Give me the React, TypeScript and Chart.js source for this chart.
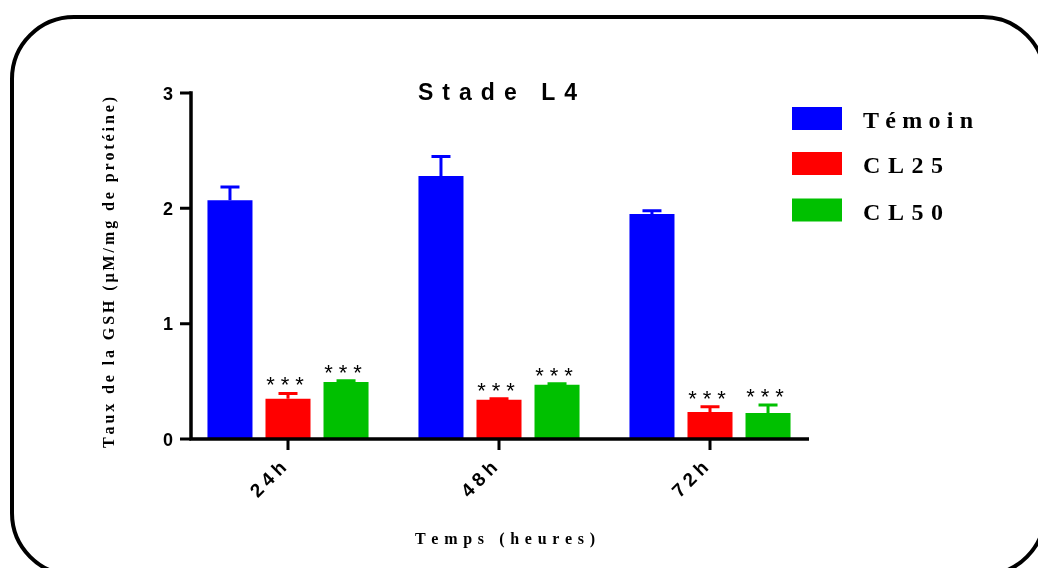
import React, { useEffect, useRef } from "react";
import { Chart, registerables } from "chart.js";

Chart.register(...registerables);

const categories = ["24h", "48h", "72h"];
const seriesNames = ["Témoin", "CL25", "CL50"];
const temoin = [2.07, 2.28, 1.95];
const cl25 = [0.35, 0.34, 0.235];
const cl50 = [0.495, 0.47, 0.225];
const temoinErr = [0.115, 0.17, 0.03];
const cl25Err = [0.045, 0.01, 0.045];
const cl50Err = [0.01, 0.01, 0.07];
const temoinSig = ["", "", ""];
const cl25Sig = ["***", "***", "***"];
const cl50Sig = ["***", "***", "***"];
const yTicks = [0, 1, 2, 3];
const titleText = "Stade L4";
const yTitle = "Taux de la GSH (µM/mg de protéine)";
const xTitle = "Temps (heures)";
const colors = ["#0000FF", "#FF0000", "#00C000"];

const seriesValues = [temoin, cl25, cl50];
const seriesErrors = [temoinErr, cl25Err, cl50Err];
const seriesSig = [temoinSig, cl25Sig, cl50Sig];

function drawSpaced(ctx: CanvasRenderingContext2D, text: string, cx: number, cy: number, width: number) {
  const chars = Array.from(text);
  const widths = chars.map((c) => ctx.measureText(c).width);
  const natural = widths.reduce((a, b) => a + b, 0);
  const gap = chars.length > 1 ? (width - natural) / (chars.length - 1) : 0;
  const capH = ctx.measureText("H").actualBoundingBoxAscent;
  let x = cx - width / 2;
  ctx.textAlign = "left";
  ctx.textBaseline = "alphabetic";
  chars.forEach((c, i) => {
    ctx.fillText(c, x, cy + capH / 2);
    x += widths[i] + gap;
  });
}

const decorPlugin = {
  id: "decor",
  afterDatasetsDraw(chart: any) {
    const ctx: CanvasRenderingContext2D = chart.ctx;
    const y = chart.scales.y;
    const x = chart.scales.x;
    ctx.save();
    // error bars + significance
    chart.data.datasets.forEach((ds: any, di: number) => {
      const meta = chart.getDatasetMeta(di);
      meta.data.forEach((bar: any, i: number) => {
        const v = seriesValues[di][i];
        const e = seriesErrors[di][i];
        const top = y.getPixelForValue(v + e);
        const base = y.getPixelForValue(v);
        ctx.strokeStyle = colors[di];
        ctx.lineWidth = 3;
        ctx.lineCap = "butt";
        ctx.beginPath();
        ctx.moveTo(bar.x, base);
        ctx.lineTo(bar.x, top);
        ctx.moveTo(bar.x - 9.5, top);
        ctx.lineTo(bar.x + 9.5, top);
        ctx.stroke();
        const sig = seriesSig[di][i];
        if (sig) {
          ctx.fillStyle = "#000";
          ctx.font = "22px Arial, 'Liberation Sans', sans-serif";
          const m = ctx.measureText("*");
          const mid = (m.actualBoundingBoxAscent - m.actualBoundingBoxDescent) / 2;
          ctx.textAlign = "center";
          ctx.textBaseline = "alphabetic";
          const cy = top - 12;
          const n = sig.length;
          for (let k = 0; k < n; k++) {
            ctx.fillText("*", bar.x - 3 + (k - (n - 1) / 2) * 14.5, cy + mid);
          }
        }
      });
    });

    // axes
    const axisX = chart.chartArea.left + 8.5;
    const axisEnd = chart.chartArea.right - 6.5;
    const y0 = y.getPixelForValue(0);
    const y3 = y.getPixelForValue(yTicks[yTicks.length - 1]);
    ctx.strokeStyle = "#000";
    ctx.lineWidth = 3.5;
    ctx.beginPath();
    ctx.moveTo(axisX, y3 - 1.75);
    ctx.lineTo(axisX, y0 + 1.75);
    ctx.moveTo(axisX - 1.75, y0);
    ctx.lineTo(axisEnd, y0);
    ctx.stroke();
    ctx.lineWidth = 3;
    ctx.beginPath();
    yTicks.forEach((t) => {
      const py = y.getPixelForValue(t);
      ctx.moveTo(axisX - 11, py);
      ctx.lineTo(axisX, py);
    });
    categories.forEach((_, i) => {
      const px = x.getPixelForValue(i);
      ctx.moveTo(px, y0);
      ctx.lineTo(px, y0 + 11);
    });
    ctx.stroke();

    // y tick labels
    ctx.fillStyle = "#000";
    ctx.font = "bold 18px Arial, 'Liberation Sans', sans-serif";
    const capA = ctx.measureText("0").actualBoundingBoxAscent;
    ctx.textAlign = "right";
    ctx.textBaseline = "alphabetic";
    yTicks.forEach((t) => {
      const py = y.getPixelForValue(t);
      ctx.fillText(String(t), axisX - 18, py + capA / 2);
    });

    // x tick labels rotated
    categories.forEach((c, i) => {
      const px = x.getPixelForValue(i);
      ctx.save();
      ctx.translate(px - 20, y0 + 40);
      ctx.rotate(-Math.PI / 4);
      ctx.font = "bold 19px Arial, 'Liberation Sans', sans-serif";
      drawSpaced(ctx, c, 0, 0, 42);
      ctx.restore();
    });

    // title
    ctx.font = "bold 23px Arial, 'Liberation Sans', sans-serif";
    drawSpaced(ctx, titleText, 497.5, 91, 159);

    // x title
    ctx.font = "bold 16px 'Liberation Serif', 'Times New Roman', serif";
    drawSpaced(ctx, xTitle, 505, 538, 180);

    // y title
    ctx.save();
    ctx.translate(108, 272.5);
    ctx.rotate(-Math.PI / 2);
    ctx.font = "bold 16px 'Liberation Serif', 'Times New Roman', serif";
    drawSpaced(ctx, yTitle, 0, 0, 351);
    ctx.restore();

    // legend
    const legendRows = [
      { box: 118.5, text: 120, w: 110 },
      { box: 163.5, text: 165.5, w: 80 },
      { box: 210, text: 212.5, w: 80 },
    ];
    seriesNames.forEach((name, i) => {
      const r = legendRows[i];
      ctx.fillStyle = colors[i];
      ctx.fillRect(792, r.box - 11.5, 50, 23);
      ctx.fillStyle = "#000";
      ctx.font = "bold 24px 'Liberation Serif', 'Times New Roman', serif";
      drawSpaced(ctx, name, 863 + r.w / 2, r.text, r.w);
    });
    ctx.restore();
  },
};

export default function App() {
  const canvasRef = useRef<HTMLCanvasElement | null>(null);

  useEffect(() => {
    const canvas = canvasRef.current;
    if (!canvas) return;
    const chart = new Chart(canvas, {
      type: "bar",
      data: {
        labels: categories,
        datasets: seriesNames.map((name, i) => ({
          label: name,
          data: seriesValues[i],
          backgroundColor: colors[i],
          borderWidth: 0,
          categoryPercentage: 0.825,
          barPercentage: 0.776,
        })),
      },
      options: {
        animation: false,
        responsive: false,
        devicePixelRatio: 1,
        events: [],
        layout: { padding: { top: 93, right: 222.5, left: 0, bottom: 0 } },
        plugins: {
          legend: { display: false },
          title: { display: false },
          tooltip: { enabled: false },
        },
        scales: {
          x: {
            type: "category",
            offset: true,
            grid: { display: false },
            border: { display: false },
            ticks: { display: false },
            afterFit: (s: any) => {
              s.height = 129;
            },
          },
          y: {
            type: "linear",
            min: 0,
            max: 3,
            grid: { display: false },
            border: { display: false },
            ticks: { display: false },
            afterFit: (s: any) => {
              s.width = 182.5;
            },
          },
        },
      },
      plugins: [decorPlugin],
    });
    return () => chart.destroy();
  }, []);

  return (
    <div
      style={{
        position: "fixed",
        left: 0,
        top: 0,
        width: 1038,
        height: 568,
        overflow: "hidden",
        background: "#fff",
      }}
    >
      <div
        style={{
          position: "absolute",
          left: 10,
          top: 15,
          width: 1037,
          height: 562,
          boxSizing: "border-box",
          border: "4px solid #000",
          borderRadius: 64,
        }}
      />
      <canvas
        ref={canvasRef}
        width={1038}
        height={568}
        style={{ position: "absolute", left: 0, top: 0, width: 1038, height: 568 }}
      />
    </div>
  );
}
